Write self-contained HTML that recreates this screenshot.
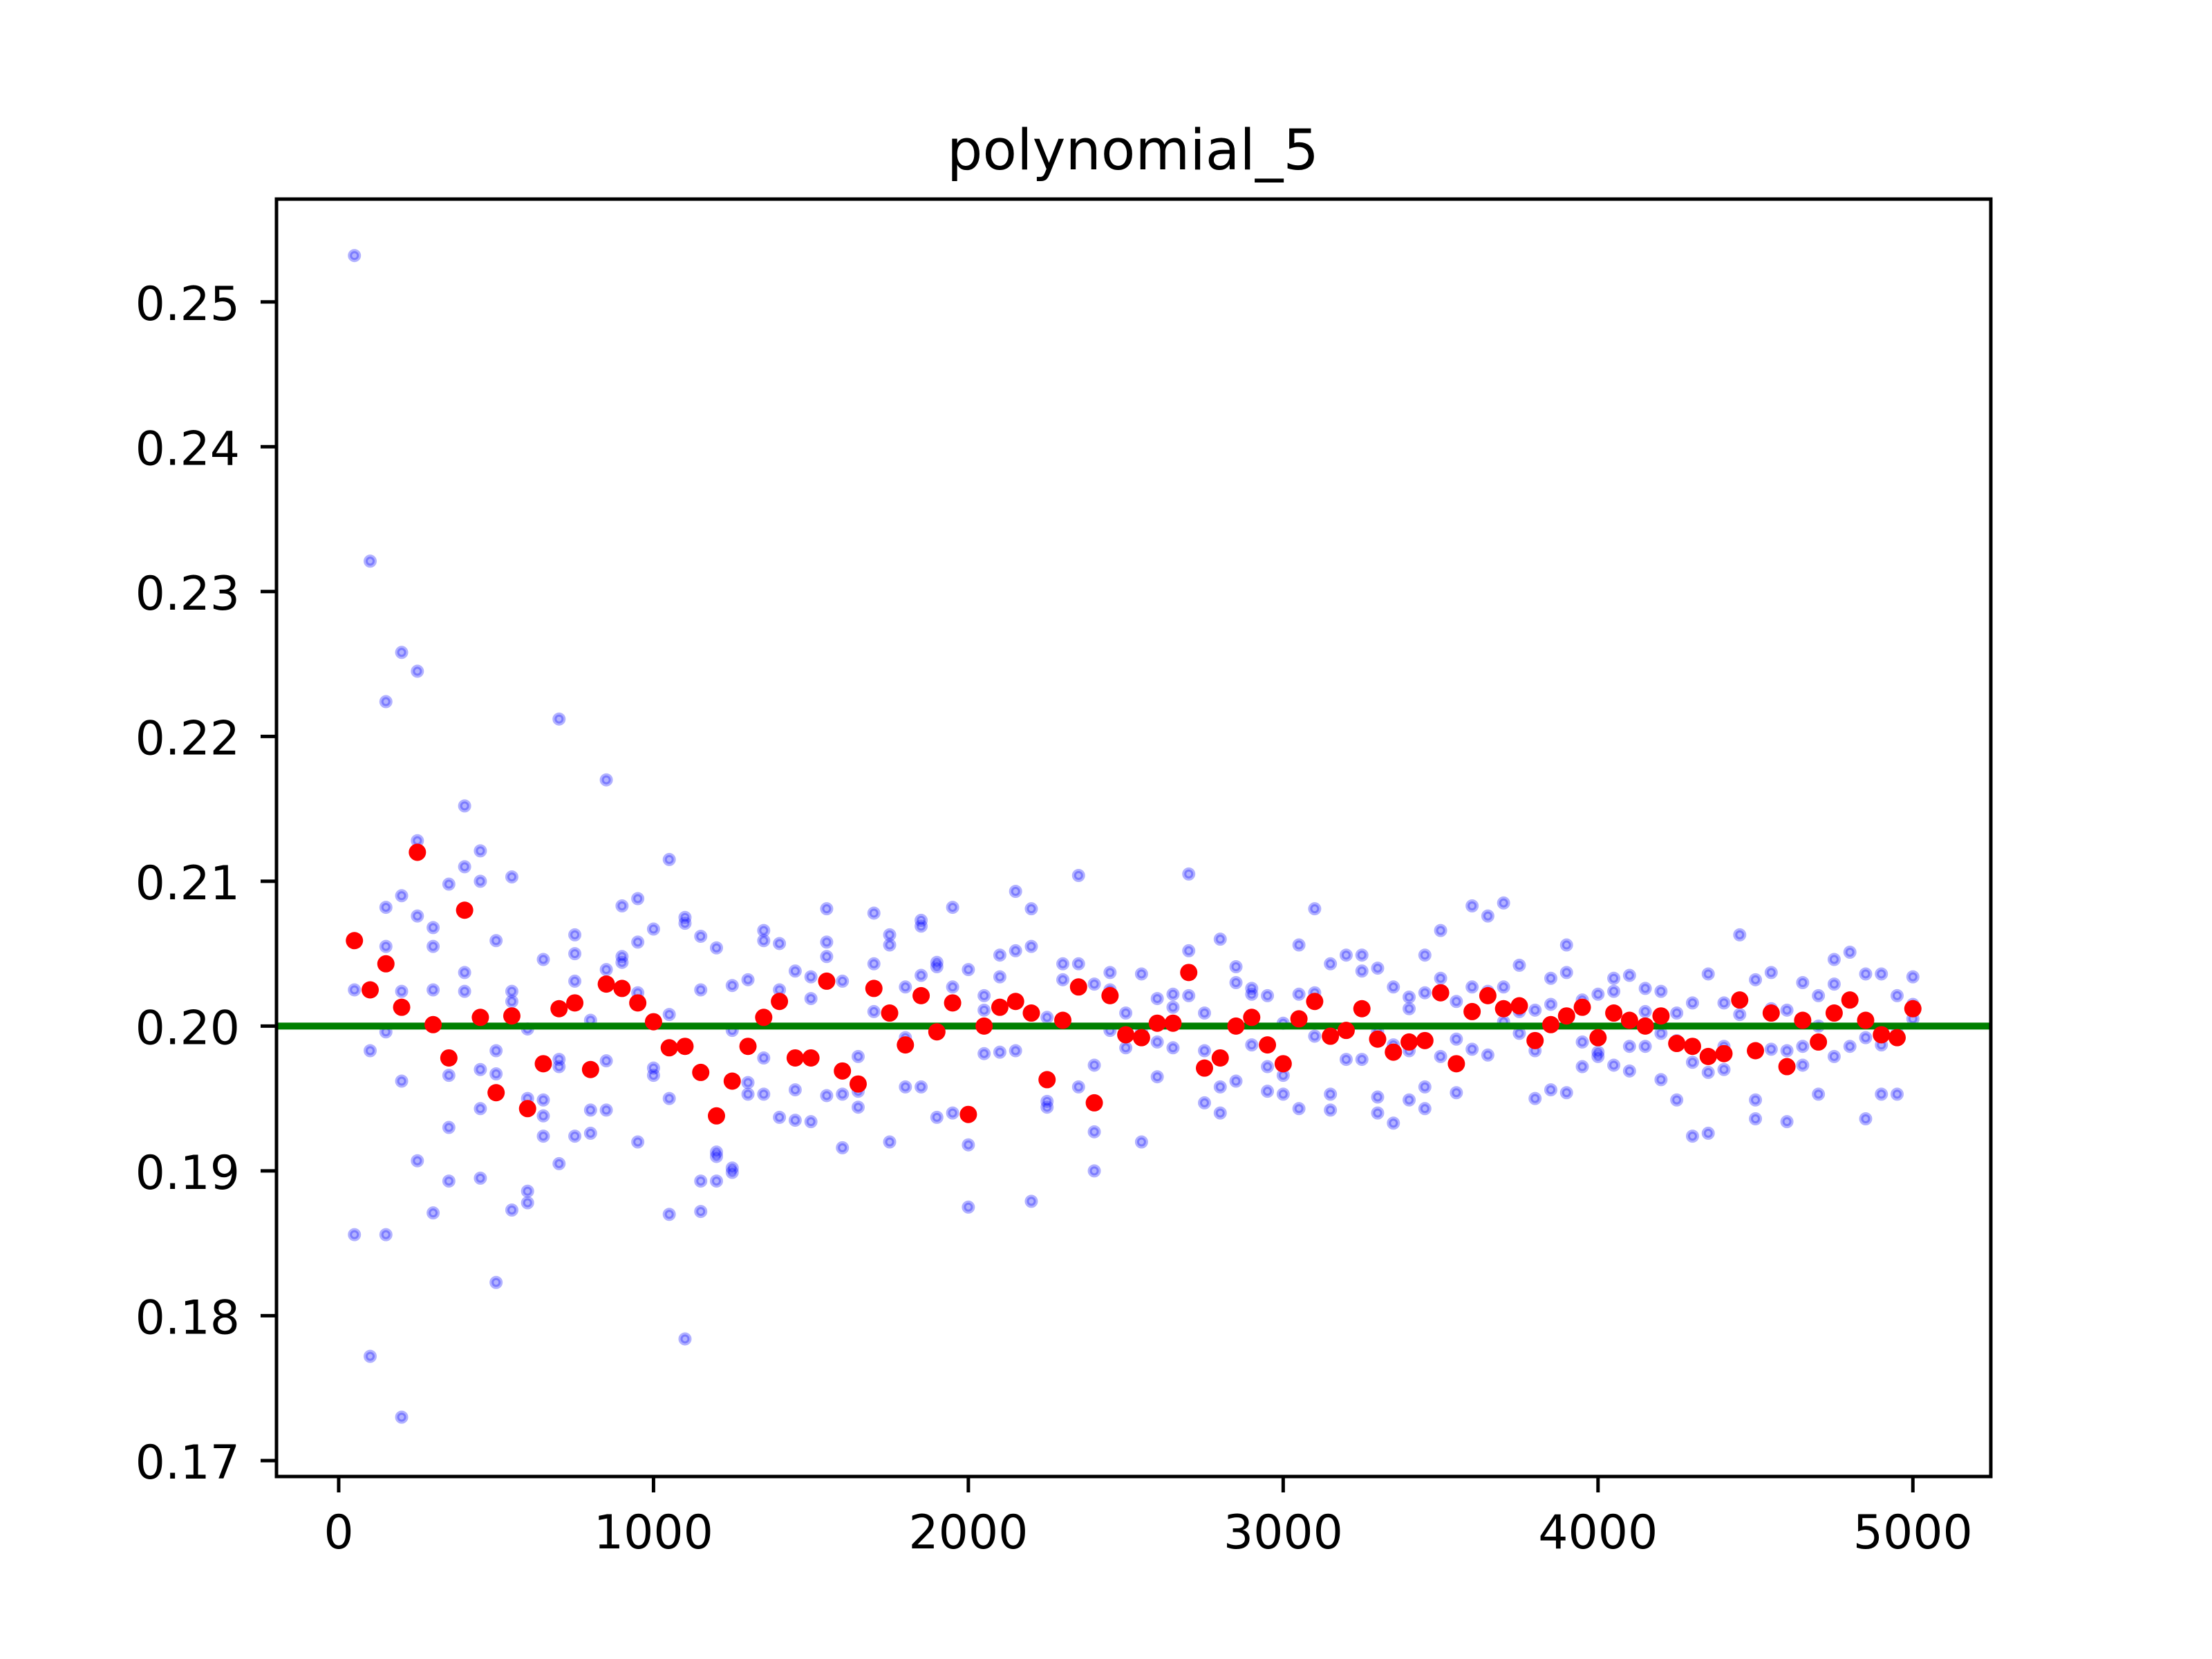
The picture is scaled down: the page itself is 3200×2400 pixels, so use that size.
<!DOCTYPE html>
<html><head><meta charset="utf-8"><style>
html,body{margin:0;padding:0;background:#fff}
svg{display:block}
text{font-family:"DejaVu Sans","Liberation Sans",sans-serif;fill:#000}
</style></head><body>
<svg id="chart" width="3200" height="2400" viewBox="0 0 3200 2400" xmlns="http://www.w3.org/2000/svg">
<rect x="0" y="0" width="3200" height="2400" fill="#fff"/>
<text x="1639" y="245" font-size="81" text-anchor="middle">polynomial_5</text>
<g id="plot"></g>
</svg>
<script>
const xTicks = [0,1000,2000,3000,4000,5000];
const yTicks = [0.17,0.18,0.19,0.20,0.21,0.22,0.23,0.24,0.25];
const yTickLabels = ["0.17","0.18","0.19","0.20","0.21","0.22","0.23","0.24","0.25"];
const targetValue = 0.2;
const meanX = [];
for (let i = 1; i <= 100; i++) meanX.push(i*50);
const meanY = [0.2059,0.2025,0.2043,0.2013,0.2120,0.2001,0.1978,0.2080,0.2006,0.1954,
0.2007,0.1943,0.1974,0.2012,0.2016,0.1970,0.2029,0.2026,0.2016,0.2003,
0.1985,0.1986,0.1968,0.1938,0.1962,0.1986,0.2006,0.2017,0.1978,0.1978,
0.2031,0.1969,0.1960,0.2026,0.2009,0.1987,0.2021,0.1996,0.2016,0.1939,
0.2000,0.2013,0.2017,0.2009,0.1963,0.2004,0.2027,0.1947,0.2021,0.1994,
0.1992,0.2002,0.2002,0.2037,0.1971,0.1978,0.2000,0.2006,0.1987,0.1974,
0.2005,0.2017,0.1993,0.1997,0.2012,0.1991,0.1982,0.1989,0.1990,0.2023,
0.1974,0.2010,0.2021,0.2012,0.2014,0.1990,0.2001,0.2007,0.2013,0.1992,
0.2009,0.2004,0.2000,0.2007,0.1988,0.1986,0.1979,0.1981,0.2018,0.1983,
0.2009,0.1972,0.2004,0.1989,0.2009,0.2018,0.2004,0.1994,0.1992,0.2012];
const sampleY = [
[0.2532,0.2025,0.1856],[0.2321,0.1983,0.1772],[0.2224,0.2082,0.2055,0.1996,0.1856],[0.2258,0.2090,0.2024,0.1962,0.1730],
[0.2245,0.2128,0.2076,0.1907],[0.2068,0.2055,0.2025,0.1871],[0.2098,0.1966,0.1930,0.1893],[0.2152,0.2110,0.2037,0.2024],
[0.2121,0.2100,0.1970,0.1943,0.1895],[0.2059,0.1983,0.1967,0.1823],[0.2103,0.2024,0.2017,0.1873],[0.1998,0.1950,0.1886,0.1878],
[0.2046,0.1949,0.1938,0.1924],[0.2212,0.1977,0.1972,0.1905],[0.2063,0.2050,0.2031,0.1924],[0.2004,0.1942,0.1926],
[0.2170,0.2039,0.1976,0.1942],[0.2083,0.2048,0.2044],[0.2088,0.2058,0.2023,0.1920],[0.2067,0.1971,0.1966],
[0.2115,0.2008,0.1950,0.1870],[0.2075,0.2071,0.1784],[0.2062,0.2025,0.1893,0.1872],[0.2054,0.1913,0.1910,0.1893],
[0.2028,0.1997,0.1902,0.1899],[0.2032,0.1961,0.1953],[0.2066,0.2059,0.1978,0.1953],[0.2057,0.2025,0.1937],
[0.2038,0.1956,0.1935],[0.2034,0.2019,0.1934],[0.2081,0.2058,0.2048,0.1952],[0.2031,0.1953,0.1916],
[0.1979,0.1955,0.1944],[0.2078,0.2043,0.2010],[0.2063,0.2056,0.1920],[0.2027,0.1992,0.1958],
[0.2073,0.2069,0.2035,0.1958],[0.2044,0.2041,0.1937],[0.2082,0.2027,0.1940],[0.2039,0.1918,0.1875],
[0.2021,0.2011,0.1981],[0.2049,0.2034,0.1982],[0.2093,0.2052,0.1983],[0.2081,0.2055,0.1879],
[0.2006,0.1948,0.1944],[0.2043,0.2032],[0.2104,0.2043,0.1958],[0.2029,0.1973,0.1927,0.1900],
[0.2037,0.2025,0.1997],[0.2009,0.1993,0.1985],[0.2036,0.1996,0.1920],[0.2019,0.1989,0.1965],
[0.2022,0.2013,0.1985],[0.2105,0.2052,0.2021],[0.2009,0.1983,0.1947],[0.2060,0.1958,0.1940],
[0.2041,0.2030,0.1962],[0.2026,0.2022,0.1987],[0.2021,0.1972,0.1955],[0.2002,0.1966,0.1953],
[0.2056,0.2022,0.1943],[0.2081,0.2023,0.1993],[0.2043,0.1953,0.1942],[0.2049,0.1977],
[0.2049,0.2038,0.1977],[0.2040,0.1996,0.1951,0.1940],[0.2027,0.1987,0.1933],[0.2020,0.2012,0.1983,0.1949],
[0.2049,0.2023,0.1958,0.1943],[0.2066,0.2033,0.1979],[0.2017,0.1991,0.1954],[0.2083,0.2027,0.1984],
[0.2076,0.2024,0.1980],[0.2085,0.2027,0.2003],[0.2042,0.2010,0.1995],[0.2011,0.1983,0.1950],
[0.2033,0.2015,0.1956],[0.2056,0.2037,0.1954],[0.2018,0.1989,0.1972],[0.2022,0.1982,0.1979],
[0.2033,0.2024,0.1973],[0.2035,0.1986,0.1969],[0.2026,0.2010,0.1986],[0.2024,0.1995,0.1963],
[0.2009,0.1990,0.1949],[0.2016,0.1975,0.1924],[0.2036,0.1968,0.1926],[0.2016,0.1986,0.1970],
[0.2063,0.2018,0.2008],[0.2032,0.1949,0.1936],[0.2037,0.2012,0.1984],[0.2011,0.1983,0.1934],
[0.2030,0.1986,0.1973],[0.2021,0.2000,0.1953],[0.2046,0.2029,0.1979],[0.2051,0.2017,0.1986],
[0.2036,0.1992,0.1936],[0.2036,0.1987,0.1953],[0.2021,0.1995,0.1953],[0.2034,0.2015,0.2005]];

const NS = "http://www.w3.org/2000/svg";
const L = 400, R = 2880, T = 288, B = 2136;
const xMin = -197.5, xMax = 5247.5, yMin = 0.1689, yMax = 0.2571;
function sx(v){ return L + (v - xMin) / (xMax - xMin) * (R - L); }
function sy(v){ return B - (v - yMin) / (yMax - yMin) * (B - T); }
const plot = document.getElementById('plot');
function mk(tag, attrs, parent){
  const e = document.createElementNS(NS, tag);
  for (const k in attrs) e.setAttribute(k, attrs[k]);
  (parent || plot).appendChild(e);
  return e;
}
const clip = mk('clipPath', {id:'clipAx'});
mk('rect', {x:L, y:T, width:R-L, height:B-T}, clip);

const gs = mk('g', {'clip-path':'url(#clipAx)'});


for (let i = 0; i < sampleY.length; i++) {
  for (let j = 0; j < sampleY[i].length; j++) {
    const c = mk('circle', {cx:sx(meanX[i]), cy:sy(sampleY[i][j]), r:6.5, fill:'rgba(0,0,255,0.3)', stroke:'rgba(0,0,255,0.3)', 'stroke-width':6}, gs);
    
    
  }
}
const line = mk('line', {x1:L, x2:R, y1:sy(targetValue), y2:sy(targetValue), stroke:'#008000', 'stroke-width':10});



const gm = mk('g', {'clip-path':'url(#clipAx)'});


for (let i = 0; i < meanX.length; i++) {
  const c = mk('circle', {cx:sx(meanX[i]), cy:sy(meanY[i]), r:12.5, fill:'#ff0000'}, gm);
  
  
}

const frame = mk('rect', {x:L, y:T, width:R-L, height:B-T, fill:'none', stroke:'#000', 'stroke-width':5});



for (const v of xTicks) {
  const x = sx(v);
  const t = mk('line', {x1:x, x2:x, y1:B, y2:B+23, stroke:'#000', 'stroke-width':5});
  
  
  const lb = mk('text', {x:x, y:2240, 'font-size':68, 'text-anchor':'middle'});
  lb.textContent = String(v);
  
  
}
for (let i = 0; i < yTicks.length; i++) {
  const y = sy(yTicks[i]);
  const t = mk('line', {x1:L-23, x2:L, y1:y, y2:y, stroke:'#000', 'stroke-width':5});
  
  
  const lb = mk('text', {x:347, y:y+26, 'font-size':68, 'text-anchor':'end'});
  lb.textContent = yTickLabels[i];
  
  
}
</script>
</body></html>
